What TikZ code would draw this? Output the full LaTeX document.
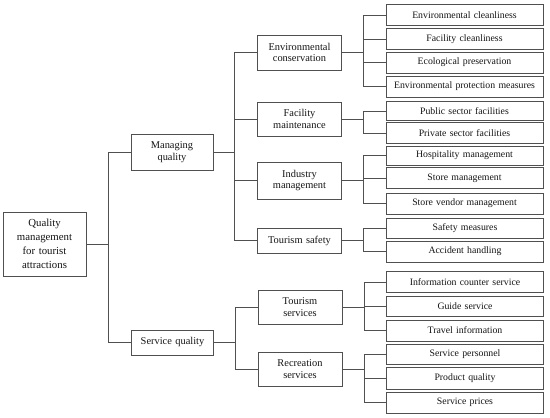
\documentclass[tikz,border=0pt]{standalone}
\usepackage{fontspec}
\setmainfont{Liberation Serif}
\definecolor{edge}{HTML}{505050}
\definecolor{txt}{HTML}{151515}
\begin{document}
\begin{tikzpicture}[x=1pt,y=-1pt,
  box/.style={draw=edge, line width=0.75pt, fill=white, text=txt, align=center, inner sep=1pt,
    font=\fontsize{9.8}{11.5}\selectfont},
  rootbox/.style={box, minimum width=83pt, minimum height=64pt, text width=80pt, font=\fontsize{10.8}{14}\selectfont},
  midbox/.style={box, minimum width=82pt, text width=78pt, font=\fontsize{10.4}{12}\selectfont},
  lvtwo/.style={box, minimum width=84pt, text width=80pt, font=\fontsize{10.4}{11.5}\selectfont},
  leaf/.style={box, minimum width=157pt, minimum height=21pt, text width=154pt},
  link/.style={draw=edge, line width=0.75pt}]
\useasboundingbox (0,0) rectangle (550,418);

% root
\node[rootbox] (root) at (44.5,244) {Quality\\management\\for tourist\\attractions};
% level 1
\node[midbox, minimum height=36pt] (mq) at (172,152) {Managing\\quality};
\node[midbox, minimum height=25pt] (sq) at (172.5,342.5) {Service quality};
% level 2
\node[lvtwo, minimum height=35pt] (ec) at (299.5,52.5) {Environmental\\conservation};
\node[lvtwo, minimum height=34pt] (fm) at (299.5,119) {Facility\\maintenance};
\node[lvtwo, minimum height=37pt] (im) at (299.5,180.5) {Industry\\management};
\node[lvtwo, minimum height=25pt] (ts) at (299.5,240.5) {Tourism safety};
\node[lvtwo, minimum height=34pt] (tv) at (300,307) {Tourism\\services};
\node[lvtwo, minimum height=34pt] (rs) at (300,369) {Recreation\\services};
% level 3
\node[leaf] (a1) at (464.5,15) {Environmental cleanliness};
\node[leaf] (a2) at (464.5,39) {Facility cleanliness};
\node[leaf] (a3) at (464.5,62.5) {Ecological preservation};
\node[leaf] (a4) at (464.5,86.5) {Environmental protection measures};
\node[leaf, minimum height=19pt] (b1) at (464.5,111) {Public sector facilities};
\node[leaf] (b2) at (464.5,133) {Private sector facilities};
\node[leaf, minimum height=19pt] (c1) at (464.5,155.5) {Hospitality management};
\node[leaf] (c2) at (464.5,178) {Store management};
\node[leaf] (c3) at (464.5,203.5) {Store vendor management};
\node[leaf, minimum height=20pt] (d1) at (465,228) {Safety measures};
\node[leaf] (d2) at (465,251.5) {Accident handling};
\node[leaf] (e1) at (465,282) {Information counter service};
\node[leaf, minimum height=20pt] (e2) at (465,306) {Guide service};
\node[leaf] (e3) at (465,330.5) {Travel information};
\node[leaf, minimum height=20pt] (f1) at (465,354) {Service personnel};
\node[leaf, minimum height=22pt] (f2) at (465,378) {Product quality};
\node[leaf] (f3) at (465,402.5) {Service prices};

% junctions
\coordinate (j0) at (108,244);
\coordinate (j1) at (234,152);
\coordinate (j2) at (235,342.5);
\coordinate (jec) at (363,52.5);
\coordinate (jfm) at (363,119);
\coordinate (jim) at (363,180.5);
\coordinate (jts) at (363,240.5);
\coordinate (jtv) at (364,307);
\coordinate (jrs) at (364,369);

% connectors
\draw[link] (root.east) -- (j0);
\draw[link] (mq.west) -| (j0);
\draw[link] (sq.west) -| (j0);

\draw[link] (mq.east) -- (j1);
\foreach \n in {ec,fm,im,ts} \draw[link] (\n.west) -| (j1);
\draw[link] (sq.east) -- (j2);
\foreach \n in {tv,rs} \draw[link] (\n.west) -| (j2);

\draw[link] (ec.east) -- (jec);
\foreach \n in {a1,a2,a3,a4} \draw[link] (\n.west) -| (jec);
\draw[link] (fm.east) -- (jfm);
\foreach \n in {b1,b2} \draw[link] (\n.west) -| (jfm);
\draw[link] (im.east) -- (jim);
\foreach \n in {c1,c2,c3} \draw[link] (\n.west) -| (jim);
\draw[link] (ts.east) -- (jts);
\foreach \n in {d1,d2} \draw[link] (\n.west) -| (jts);
\draw[link] (tv.east) -- (jtv);
\foreach \n in {e1,e2,e3} \draw[link] (\n.west) -| (jtv);
\draw[link] (rs.east) -- (jrs);
\foreach \n in {f1,f2,f3} \draw[link] (\n.west) -| (jrs);
\end{tikzpicture}
\end{document}
